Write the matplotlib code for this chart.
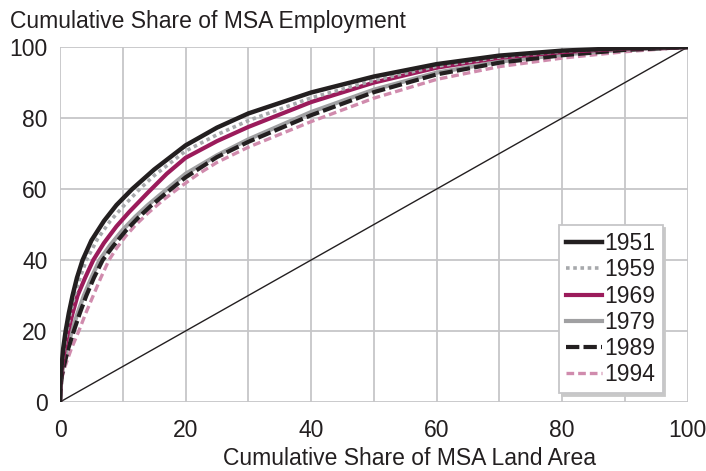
import matplotlib
matplotlib.use('Agg')
import matplotlib.pyplot as plt

plt.rcParams['font.family'] = ['Liberation Sans', 'DejaVu Sans']

# cumulative share of land area (x) and employment (y)
x_1951 = [0, 0.04, 0.12, 0.25, 0.5, 0.9, 1.4, 2, 2.7, 3.6, 5, 7, 9, 11.5, 15, 20, 25, 30, 40, 50, 60, 70, 80, 90, 100]
y_1951 = [0, 4, 7.5, 10, 15, 20, 25, 30, 35, 40, 45.5, 51, 55.5, 60, 65.5, 72.3, 77.3, 81.3, 87.2, 91.7, 95.2, 97.6, 99.0, 99.7, 100]

x_1959 = [0, 0.05, 0.15, 0.3, 0.6, 1.1, 1.65, 2.3, 3.2, 4.2, 6, 8, 10, 12.7, 15, 20, 25, 30, 40, 50, 60, 70, 80, 90, 100]
y_1959 = [0, 4, 7.5, 10, 15, 20, 25, 30, 35, 40, 46, 51, 55, 60, 63.8, 70.7, 75.3, 79.3, 85.7, 90.6, 94.6, 97.2, 98.8, 99.7, 100]

x_1969 = [0, 0.06, 0.18, 0.35, 0.75, 1.3, 2.0, 2.8, 4.0, 5.3, 7, 9, 11, 14, 17, 20, 25, 30, 40, 50, 60, 70, 80, 90, 100]
y_1969 = [0, 4, 7.5, 10, 15, 20, 25, 30, 35, 40, 44.8, 49.5, 53.5, 59, 64.3, 68.8, 73.5, 77.5, 84.5, 90, 94.2, 97, 98.6, 99.6, 100]

x_1979 = [0, 0.08, 0.25, 0.5, 1.1, 1.9, 2.8, 3.8, 5.0, 6.3, 8, 10, 12, 14, 16.5, 20, 25, 30, 40, 50, 60, 70, 80, 90, 100]
y_1979 = [0, 4, 7.5, 10, 15, 20, 25, 30, 35, 40, 44.2, 48.5, 52.2, 55.5, 59.2, 64.3, 69.5, 74, 81.7, 88, 92.8, 95.9, 97.9, 99.3, 100]

x_1989 = [0, 0.1, 0.3, 0.6, 1.3, 2.2, 3.15, 4.2, 5.4, 6.8, 8.5, 10.5, 12.5, 14.5, 17, 20, 25, 30, 40, 50, 60, 70, 80, 90, 100]
y_1989 = [0, 4, 7.5, 10, 15, 20, 25, 30, 35, 40, 44, 48.3, 52, 55.3, 59, 63.3, 69, 73.3, 80.8, 87.3, 92.3, 95.6, 97.7, 99.2, 100]

x_1994 = [0, 0.13, 0.4, 0.8, 1.8, 3.0, 4.1, 5.3, 6.5, 7.8, 9, 10.5, 12, 14, 16.5, 19, 22, 25, 30, 40, 50, 60, 70, 80, 90, 100]
y_1994 = [0, 4, 7.5, 10, 15, 20, 25, 30, 35, 40, 43.3, 46.8, 49.8, 53.2, 57, 60.4, 64.2, 67.5, 71.8, 79, 85.6, 90.9, 94.5, 96.9, 98.7, 100]

equality = [0, 100]

x_ticks = [0, 20, 40, 60, 80, 100]
y_ticks = [0, 20, 40, 60, 80, 100]


def main():
    fig = plt.figure(figsize=(7.06, 4.71), dpi=100)
    ax = fig.add_axes([0.085, 0.1465, 0.889, 0.7535])

    grid_col = '#c6c6c8'
    for v in range(0, 101, 10):
        ax.axvline(v, color=grid_col, lw=1.3, zorder=0)
    for v in y_ticks:
        ax.axhline(v, color=grid_col, lw=1.3, zorder=0)

    ax.plot(equality, equality, color='#231f20', lw=1.0, zorder=2)

    ax.plot(x_1994, y_1994, color='#d08bad', lw=2.4, ls=(0, (2.3, 1.2)), label='1994', zorder=3)
    ax.plot(x_1979, y_1979, color='#a0a0a2', lw=3.0, label='1979', zorder=3)
    ax.plot(x_1989, y_1989, color='#231f20', lw=3.0, ls=(0, (3.2, 1.0)), label='1989', zorder=4)
    ax.plot(x_1969, y_1969, color='#9b1b5b', lw=3.0, label='1969', zorder=4)
    ax.plot(x_1959, y_1959, color='#a7a9ac', lw=2.6, ls=(0, (1.0, 1.0)), label='1959', zorder=4)
    ax.plot(x_1951, y_1951, color='#231f20', lw=3.2, label='1951', zorder=5)

    ax.set_xlim(0, 100)
    ax.set_ylim(0, 100)
    ax.set_xticks(x_ticks)
    ax.set_yticks(y_ticks)
    ax.tick_params(length=0, labelsize=16.5, colors='#231f20')
    ax.tick_params(axis='x', pad=12)
    ax.tick_params(axis='y', pad=9)
    for s in ax.spines.values():
        s.set_visible(False)

    # axis titles, placed as in the reference
    fig.text(0.580, 0.003, 'Cumulative Share of MSA Land Area', fontsize=16.5,
             color='#231f20', ha='center', va='bottom')
    fig.text(0.014, 0.955, 'Cumulative Share of MSA Employment', fontsize=16.5,
             color='#231f20', ha='left', va='center')

    handles, labels = ax.get_legend_handles_labels()
    order = ['1951', '1959', '1969', '1979', '1989', '1994']
    hl = [handles[labels.index(o)] for o in order]
    leg = ax.legend(hl, order, loc='lower right', bbox_to_anchor=(0.96, 0.025),
                    fontsize=16.5, frameon=True, fancybox=False, shadow={'color': '#c8c8c8', 'alpha': 1},
                    handlelength=1.6, handletextpad=0.1, labelspacing=0.14,
                    borderpad=0.3, borderaxespad=0)
    leg.get_frame().set_edgecolor('#c6c6c8')
    leg.get_frame().set_linewidth(1.3)
    for t in leg.get_texts():
        t.set_color('#231f20')

    fig.savefig('out.png', dpi=100)


if __name__ == "__main__":
    main()
